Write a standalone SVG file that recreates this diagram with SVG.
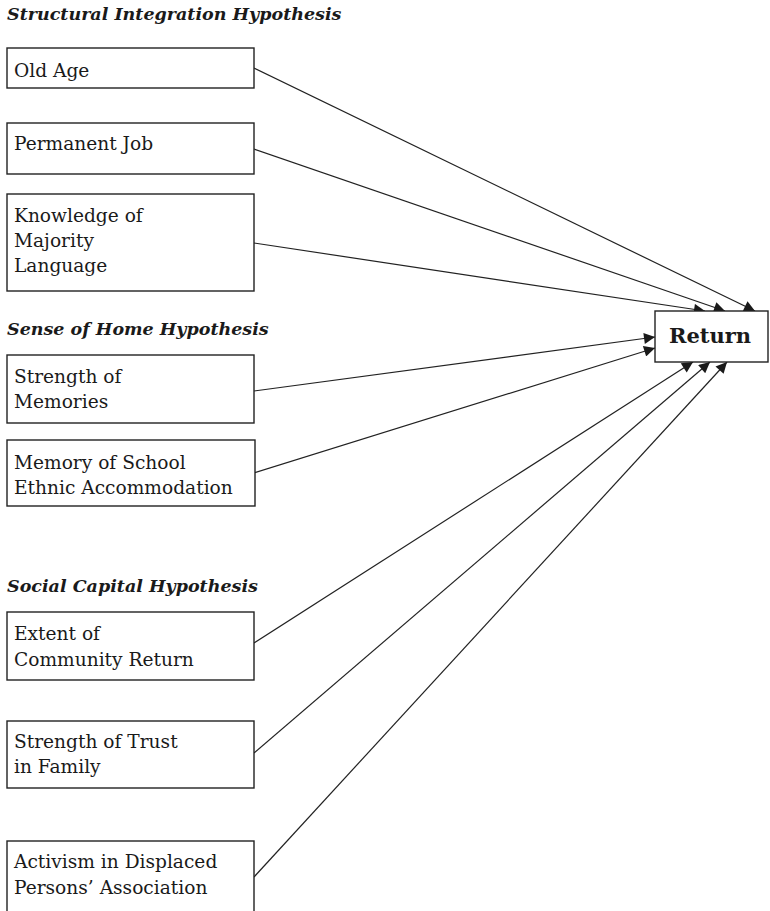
<svg xmlns="http://www.w3.org/2000/svg" width="770" height="911" viewBox="0 0 770 911">
<defs>
<style>
.bx{fill:#fff;stroke:#222;stroke-width:1.4}
.t{font-family:"DejaVu Serif","Liberation Serif",serif;font-size:18.6px;fill:#1a1a1a}
.h{font-family:"DejaVu Serif","Liberation Serif",serif;font-size:17.5px;font-weight:bold;font-style:italic;fill:#1a1a1a}
.r{font-family:"DejaVu Serif","Liberation Serif",serif;font-size:21px;font-weight:bold;fill:#1a1a1a}
.c{fill:none;stroke:#222;stroke-width:1.2}
</style>
<marker id="ah" viewBox="0 0 10 10" refX="10" refY="5" markerWidth="13" markerHeight="11" markerUnits="userSpaceOnUse" orient="auto">
<path d="M0,0 L10,5 L0,10 z" fill="#1a1a1a"/>
</marker>
</defs>
<rect width="770" height="911" fill="#fff"/>
<text class="h" x="7" y="20">Structural Integration Hypothesis</text>
<text class="h" x="7" y="335">Sense of Home Hypothesis</text>
<text class="h" x="7" y="592">Social Capital Hypothesis</text>
<g id="connectors">
<line class="c" x1="254" y1="68" x2="755" y2="311" marker-end="url(#ah)"/>
<line class="c" x1="254" y1="149" x2="725" y2="311" marker-end="url(#ah)"/>
<line class="c" x1="254" y1="243" x2="705" y2="311" marker-end="url(#ah)"/>
<line class="c" x1="254" y1="391" x2="655" y2="337" marker-end="url(#ah)"/>
<line class="c" x1="254" y1="473" x2="655" y2="348" marker-end="url(#ah)"/>
<line class="c" x1="254" y1="643" x2="693" y2="362" marker-end="url(#ah)"/>
<line class="c" x1="254" y1="753" x2="710" y2="362" marker-end="url(#ah)"/>
<line class="c" x1="254" y1="877" x2="727" y2="362" marker-end="url(#ah)"/>
</g>
<g id="n-oldage"><rect class="bx" x="7" y="48" width="247" height="40"/><text class="t" x="14" y="77">Old Age</text></g>
<g id="n-job"><rect class="bx" x="7" y="123" width="247" height="51"/><text class="t" x="14" y="150">Permanent Job</text></g>
<g id="n-lang"><rect class="bx" x="7" y="194" width="247" height="97"/><text class="t" x="14" y="222">Knowledge of</text><text class="t" x="14" y="247">Majority</text><text class="t" x="14" y="272">Language</text></g>
<g id="n-mem"><rect class="bx" x="7" y="355" width="247" height="68"/><text class="t" x="14" y="383">Strength of</text><text class="t" x="14" y="408">Memories</text></g>
<g id="n-school"><rect class="bx" x="7" y="440" width="248" height="66"/><text class="t" x="14" y="469">Memory of School</text><text class="t" x="14" y="494">Ethnic Accommodation</text></g>
<g id="n-comm"><rect class="bx" x="7" y="612" width="247" height="68"/><text class="t" x="14" y="640">Extent of</text><text class="t" x="14" y="666">Community Return</text></g>
<g id="n-trust"><rect class="bx" x="7" y="721" width="247" height="67"/><text class="t" x="14" y="748">Strength of Trust</text><text class="t" x="14" y="773">in Family</text></g>
<g id="n-dpa"><rect class="bx" x="7" y="841" width="247" height="90"/><text class="t" x="14" y="868">Activism in Displaced</text><text class="t" x="14" y="894">Persons’ Association</text></g>
<g id="n-return"><rect class="bx" x="655" y="311" width="113" height="51"/><text class="r" x="669" y="343">Return</text></g>
</svg>
